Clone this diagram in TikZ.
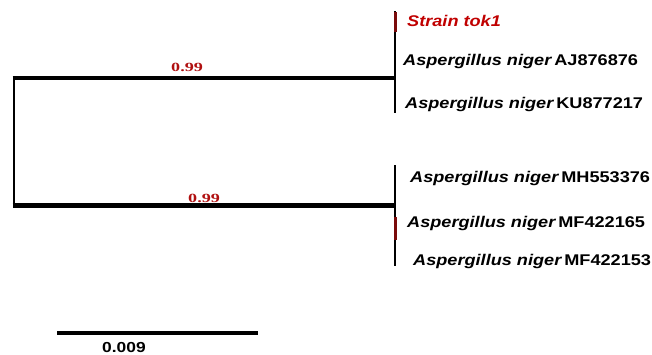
\documentclass[tikz,border=0pt]{standalone}
\usepackage{fontspec}
\setmainfont{Liberation Sans}
\newfontfamily\serifbold{Liberation Serif}
\definecolor{labred}{HTML}{C00000}
\definecolor{suppred}{HTML}{B01010}
\definecolor{markred}{HTML}{7A0A0A}
\begin{document}
\begin{tikzpicture}[x=1pt,y=-1pt,
  branch/.style={line width=4.2pt,line cap=butt},
  vbranch/.style={line width=2.6pt},
  leaf/.style={anchor=base west,inner sep=0pt,font=\fontsize{15.5}{17}\selectfont\bfseries},
  supp/.style={anchor=base west,inner sep=0pt,text=suppred,font=\fontsize{12.5}{14}\selectfont\serifbold\bfseries},
  redmark/.style={fill=markred,draw=none}]
\useasboundingbox (0,0) rectangle (652,354);
% coordinates
\coordinate (rt) at (14,78);
\coordinate (rb) at (14,205.5);
\coordinate (c1) at (395,78);
\coordinate (c2) at (395,205.5);
\coordinate (c1t) at (395,11);
\coordinate (c1b) at (395,113);
\coordinate (c2t) at (395,165);
\coordinate (c2b) at (395,266);
% tree
\draw[vbranch] (rt) -- (rb);
\draw[branch] ([xshift=-1.3pt]rt) -- (c1);
\draw[branch] ([xshift=-1.3pt]rb) -- (c2);
\draw[vbranch] (c1t) -- (c1b);
\draw[vbranch] (c2t) -- (c2b);
\fill[redmark] (393.5,12) rectangle (396.5,32);
\fill[redmark] (393.5,217) rectangle (396.5,240);
% support values
\node[supp] (s1) at (171,71.5) {\scalebox{1.45}[1]{0.99}};
\node[supp] (s2) at (188,202) {\scalebox{1.45}[1]{0.99}};
% leaves
\node[leaf,text=labred] (l1) at (407,26) {\scalebox{1.17}[1]{\itshape Strain tok1}};
\node[leaf] (l2) at (403,65) {\scalebox{1.17}[1]{\itshape Aspergillus niger\,\upshape AJ876876}};
\node[leaf] (l3) at (405,108) {\scalebox{1.17}[1]{\itshape Aspergillus niger\,\upshape KU877217}};
\node[leaf] (l4) at (410,182) {\scalebox{1.17}[1]{\itshape Aspergillus niger\,\upshape MH553376}};
\node[leaf] (l5) at (407,227) {\scalebox{1.17}[1]{\itshape Aspergillus niger\,\upshape MF422165}};
\node[leaf] (l6) at (413,265) {\scalebox{1.17}[1]{\itshape Aspergillus niger\,\upshape MF422153}};
% scale bar
\coordinate (sb1) at (57,333);
\coordinate (sb2) at (258,333);
\draw[branch] (sb1) -- (sb2);
\node[leaf,font=\fontsize{14.5}{16}\selectfont\bfseries] (sbl) at (102,352) {\scalebox{1.2}[1]{0.009}};
\end{tikzpicture}
\end{document}
